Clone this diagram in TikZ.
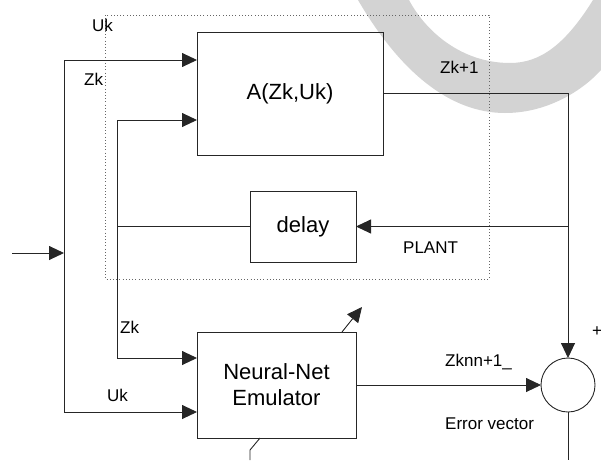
\documentclass[tikz,border=0pt]{standalone}
\usepackage{fontspec}
\setmainfont{Liberation Sans}
\usepackage{tikz}
\usepackage{tkz-euclide}
\usetikzlibrary{arrows.meta}
\definecolor{markgray}{RGB}{211,211,211}

\begin{document}
\begin{tikzpicture}[x=1pt,y=-1pt,
  wire/.style={draw=black!85,line width=0.9pt},
  arr/.style={wire,-{Triangle[length=15pt,width=14pt]}},
  block/.style={draw=black!85,line width=0.9pt,inner sep=0pt,outer sep=0pt,
    align=center,font=\fontsize{22}{26}\selectfont},
  lbl/.style={inner sep=0pt,anchor=base west,font=\fontsize{17}{20}\selectfont},
  plant/.style={draw=black!60,line width=0.8pt,dash pattern=on 0.8pt off 2.4pt}]
\useasboundingbox (0,0) rectangle (601,460);

\fill[markgray] (358,0) .. controls (400,72) and (450,113) .. (505,113)
  .. controls (550,113) and (585,88) .. (601,70) -- (601,0) -- (593,0)
  .. controls (565,45) and (540,63) .. (510,63)
  .. controls (462,63) and (426,32) .. (409,0) -- cycle;

\draw[plant] (105,15) rectangle (489,279);

\node[block,minimum width=186pt,minimum height=123pt] (A) at (290,93.5) {A(Zk,Uk)};
\node[block,minimum width=106pt,minimum height=71pt] (D) at (303,226.5) {delay};
\node[block,minimum width=159pt,minimum height=106pt] (N) at (276.5,385) {Neural-Net\\Emulator};
\node[draw=black!85,line width=0.9pt,circle,minimum size=54pt,inner sep=0pt,outer sep=0pt] (S) at (568,385) {};

\tkzDefPoints{12/253/I,64/253/J,64/60/UA,64/412/UN,117/120/ZA,117/358/ZN}
\tkzDefPoints{568/460/E,342/332/P1,362/307/P2,260/438/B1,250/450/B2,250/460/B3}

\draw[arr] (I) -- (J);
\draw[wire] (UA) -- (UN);
\draw[arr] (UA) -- (UA -| A.west);
\draw[arr] (UN) -- (UN -| N.west);
\draw[wire] (ZA) -- (ZN);
\draw[wire] (D.west) -- (D.west -| ZA);
\draw[arr] (ZA) -- (ZA -| A.west);
\draw[arr] (ZN) -- (ZN -| N.west);
\draw[arr] (A.east) -| (S.north);
\draw[arr] (S.north |- D.east) -- (D.east);
\draw[arr] (N.east) -- (S.west);
\draw[wire] (S.south) -- (E);
\draw[arr] (P1) -- (P2);
\draw[wire] (B1) -- (B2) -- (B3);

\node[lbl] (uk1) at (92,32) {Uk};
\node[lbl] (zk1) at (84,85) {Zk};
\node[lbl] (zk2) at (440,73) {Zk+1};
\node[lbl] (pl) at (403,253) {PLANT};
\node[lbl] (zk3) at (120,333) {Zk};
\node[lbl] (uk2) at (107,401) {Uk};
\node[lbl] (znn) at (445,366) {Zknn+1\_};
\node[lbl] (err) at (445,429) {Error vector};
\node[inner sep=0pt,font=\fontsize{17}{20}\selectfont] (pls) at (597,332) {+};
\end{tikzpicture}
\end{document}
